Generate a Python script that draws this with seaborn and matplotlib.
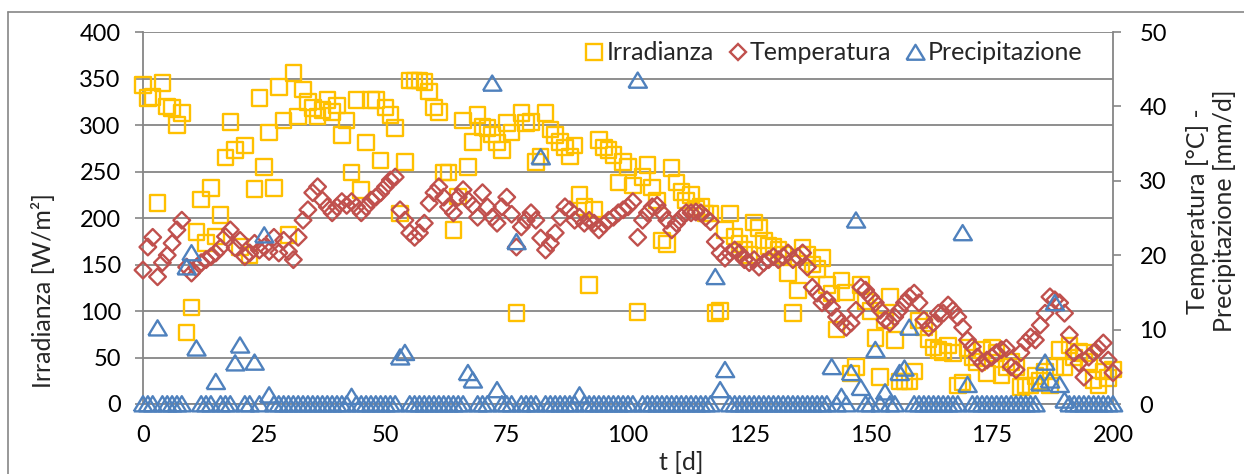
import numpy as np
import pandas as pd
import matplotlib
matplotlib.use("Agg")
import matplotlib.pyplot as plt
import seaborn as sns
from matplotlib.lines import Line2D

# ---------------- data ----------------
days = list(range(201))

irradianza = [
    343, 329, 330, 216, 345, 320, 318, 300, 313, 77,
    104, 185, 220, 173, 232, 180, 203, 265, 303, 273,
    169, 278, 160, 231, 329, 255, 292, 232, 341, 305,
    182, 356, 309, 338, 325, 318, 309, 316, 327, 314,
    321, 289, 305, 249, 327, 230, 281, 327, 327, 262,
    319, 311, 297, 205, 260, 348, 348, 348, 346, 336,
    319, 314, 249, 249, 187, 223, 305, 255, 282, 311,
    298, 297, 290, 281, 273, 302, 292, 98, 313, 302,
    303, 260, 266, 313, 295, 289, 282, 276, 266, 278,
    225, 212, 128, 209, 284, 276, 273, 268, 238, 260,
    255, 235, 99, 244, 257, 233, 219, 176, 172, 254,
    238, 228, 219, 225, 210, 212, 205, 205, 98, 100,
    187, 205, 180, 172, 166, 160, 195, 189, 176, 170,
    169, 166, 160, 141, 98, 122, 168, 160, 150, 145,
    157, 128, 119, 80, 133, 120, 33, 40, 128, 110,
    100, 71, 29, 90, 115, 69, 24, 24, 24, 35,
    90, 83, 70, 61, 58, 56, 63, 55, 20, 23,
    60, 50, 45, 58, 33, 61, 55, 31, 40, 45,
    40, 18, 20, 20, 30, 25, 35, 20, 40, 58,
    40, 63, 50, 56, 55, 45, 26, 20, 35, 28, 37,
]

temperatura = [
    18.0, 21.1, 22.4, 17.1, 19.0, 20.0, 21.6, 23.4, 24.7, 18.4,
    17.6, 18.3, 19.0, 19.4, 19.8, 20.3, 21.0, 22.5, 23.4, 21.0,
    22.0, 19.8, 20.3, 21.6, 20.7, 21.1, 20.5, 22.4, 20.3, 22.0,
    20.5, 19.4, 22.4, 24.7, 26.1, 28.4, 29.2, 27.4, 26.5, 25.7,
    26.5, 27.2, 26.7, 27.2, 26.5, 25.7, 26.5, 27.4, 27.8, 28.4,
    29.2, 30.1, 30.5, 26.1, 24.7, 23.0, 22.4, 23.0, 24.3, 27.0,
    28.4, 29.2, 27.8, 26.5, 25.7, 27.8, 28.8, 27.4, 26.7, 25.1,
    28.4, 26.5, 25.1, 24.3, 26.5, 27.8, 25.5, 21.1, 23.8, 24.7,
    25.7, 24.7, 22.3, 20.7, 21.6, 23.0, 25.1, 26.5, 26.1, 24.7,
    25.1, 24.3, 24.7, 24.3, 23.4, 24.1, 24.7, 25.1, 25.7, 26.1,
    26.5, 27.2, 22.4, 24.7, 25.7, 26.5, 26.7, 25.7, 24.7, 23.4,
    24.3, 25.1, 25.7, 25.7, 25.8, 25.7, 25.1, 24.5, 21.8, 20.3,
    19.6, 20.3, 20.7, 20.3, 19.4, 19.0, 19.4, 18.4, 19.0, 19.4,
    19.8, 19.4, 19.8, 20.3, 19.4, 19.8, 20.3, 18.4, 15.7, 14.9,
    13.6, 14.0, 13.0, 11.7, 10.9, 10.3, 10.9, 12.6, 15.7, 15.3,
    14.4, 13.6, 12.6, 11.3, 10.9, 11.7, 12.6, 13.6, 14.4, 14.9,
    13.6, 11.3, 10.3, 10.9, 12.2, 12.2, 13.3, 12.6, 11.7, 10.3,
    8.6, 7.7, 6.3, 5.5, 5.9, 6.3, 6.9, 7.3, 7.5, 5.0,
    4.6, 6.9, 8.3, 9.0, 8.6, 10.6, 12.2, 14.4, 14.0, 13.6,
    12.2, 9.3, 6.9, 5.5, 3.6, 6.3, 6.9, 7.5, 8.2, 5.9, 4.2,
]

precipitazione = [
    0, 0, 0, 10.2, 0, 0, 0, 0, 0, 18.4,
    20.3, 7.5, 0, 0, 0, 3.0, 0, 0, 0, 5.5,
    7.9, 0, 0, 5.6, 0, 22.7, 1.2, 0, 0, 0,
    0, 0, 0, 0, 0, 0, 0, 0, 0, 0,
    0, 0, 0, 1.0, 0, 0, 0, 0, 0, 0,
    0, 0, 0, 6.3, 6.9, 0, 0, 0, 0, 0,
    0, 0, 0, 0, 0, 0, 0, 4.2, 3.2, 0,
    0, 0, 43.1, 1.9, 0, 0, 0, 21.8, 0, 0,
    0, 0, 33.2, 0, 0, 0, 0, 0, 0, 0,
    1.2, 0, 0, 0, 0, 0, 0, 0, 0, 0,
    0, 0, 43.5, 0, 0, 0, 0, 0, 0, 0,
    0, 0, 0, 0, 0, 0, 0, 0, 17.1, 1.9,
    4.6, 0, 0, 0, 0, 0, 0, 0, 0, 0,
    0, 0, 0, 0, 0, 0, 0, 0, 0, 0,
    0, 0, 5.0, 0, 1.0, 0, 4.2, 24.7, 2.2, 0,
    0, 7.3, 0, 1.6, 0, 0, 4.2, 4.8, 10.3, 0,
    0, 0, 0, 0, 0, 0, 0, 0, 0, 23.0,
    2.6, 0, 0, 0, 0, 0, 0, 0, 0, 0,
    0, 0, 0, 0, 0, 2.8, 5.6, 3.2, 13.6, 2.6,
    0.5, 0, 0, 0, 0, 0, 0, 0, 0, 0, 0,
]

series_labels = ["Irradianza", "Temperatura", "Precipitazione"]
x_ticks = [0, 25, 50, 75, 100, 125, 150, 175, 200]
left_ticks = [0, 50, 100, 150, 200, 250, 300, 350, 400]
right_ticks = [0, 10, 20, 30, 40, 50]

# ---------------- style ----------------
YEL = "#FFC000"
RED = "#C0504D"
BLU = "#4F81BD"
GRID = "#868686"
FS_TICK = 17
FS_TXT = 18

sns.set_theme(style="white")
plt.rcParams["font.family"] = ["Lato", "DejaVu Sans"]

W, H = 1244, 474
fig = plt.figure(figsize=(W / 100, H / 100), dpi=100)
fig.patch.set_facecolor("white")

L, R, T, B = 143, 1113, 32, 404
ax = fig.add_axes([L / W, 1 - B / H, (R - L) / W, (B - T) / H])
ax2 = ax.twinx()

df = pd.DataFrame({"t": days, "irr": irradianza,
                   "temp": temperatura, "prec": precipitazione})

# closed triangle outline (Excel-like, slightly wider than tall)
tri = [(-1.0, -0.8), (1.0, -0.8), (0.0, 0.85), (-1.0, -0.8)]

sns.scatterplot(data=df, x="t", y="irr", ax=ax, marker="s", s=125,
                facecolor="none", edgecolor=YEL, linewidth=1.7,
                clip_on=False, legend=False, zorder=3)
sns.scatterplot(data=df, x="t", y="temp", ax=ax2, marker="D", s=72,
                facecolor="none", edgecolor=RED, linewidth=1.7,
                clip_on=False, legend=False, zorder=3)
sns.scatterplot(data=df, x="t", y="prec", ax=ax2, marker=tri, s=175,
                facecolor="none", edgecolor=BLU, linewidth=1.7,
                clip_on=False, legend=False, zorder=4)

# primary axis
ax.set_xlim(0, 200)
ax.set_ylim(0, 400)
ax.set_xticks(x_ticks)
ax.set_yticks(left_ticks)
ax.set_xlabel("")
ax.set_ylabel("")
ax.set_facecolor("none")
ax.yaxis.grid(True, color=GRID, linewidth=1.3)
ax.xaxis.grid(False)
ax.set_axisbelow(True)
for side in ["top", "right"]:
    ax.spines[side].set_visible(False)
for side in ["left", "bottom"]:
    ax.spines[side].set_color(GRID)
    ax.spines[side].set_linewidth(1.3)
ax.tick_params(axis="x", length=0, pad=15, labelsize=FS_TICK, colors="black")
ax.tick_params(axis="y", direction="out", length=6, width=1.2, color=GRID,
               pad=10, labelsize=FS_TICK, labelcolor="black", left=True)

# secondary axis
ax2.set_ylim(0, 50)
ax2.set_yticks(right_ticks)
ax2.set_ylabel("")
ax2.grid(False)
for side in ["top", "left", "bottom"]:
    ax2.spines[side].set_visible(False)
ax2.spines["right"].set_color(GRID)
ax2.spines["right"].set_linewidth(1.3)
ax2.tick_params(axis="y", direction="out", length=6, width=1.2, color=GRID,
                pad=13, labelsize=FS_TICK, labelcolor="black", right=True)

# axis titles
fig.text(43 / W, 1 - 291 / H, "Irradianza [W/m²]", rotation=90,
         ha="center", va="center", fontsize=FS_TXT)
fig.text(1211 / W, 1 - 211 / H, "Temperatura [°C] -\nPrecipitazione [mm/d]",
         rotation=90, ha="center", va="center", fontsize=FS_TXT,
         multialignment="center", linespacing=1.2)
fig.text(681 / W, 1 - 462 / H, "t [d]", ha="center", va="center",
         fontsize=FS_TXT)

# legend
handles = [
    Line2D([], [], linestyle="none", marker="s", markersize=11,
           markerfacecolor="none", markeredgecolor=YEL, markeredgewidth=1.7),
    Line2D([], [], linestyle="none", marker="D", markersize=8,
           markerfacecolor="none", markeredgecolor=RED, markeredgewidth=1.7),
    Line2D([], [], linestyle="none", marker=tri, markersize=13,
           markerfacecolor="none", markeredgecolor=BLU, markeredgewidth=1.7),
]
fig.legend(handles, series_labels, loc="center right", ncol=3,
           bbox_to_anchor=(1095 / W, 1 - 53 / H), frameon=False,
           fontsize=FS_TXT, handlelength=0.7, handletextpad=0.15,
           columnspacing=0.6, borderpad=0.0)

# chart-area border (Excel style)
fig.add_artist(Line2D([8 / W, 1], [1 - 12 / H, 1 - 12 / H],
                      transform=fig.transFigure, color=GRID, linewidth=1.2))
fig.add_artist(Line2D([8 / W, 8 / W], [0, 1 - 12 / H],
                      transform=fig.transFigure, color=GRID, linewidth=1.2))

fig.savefig("out.png", dpi=100, facecolor="white")
